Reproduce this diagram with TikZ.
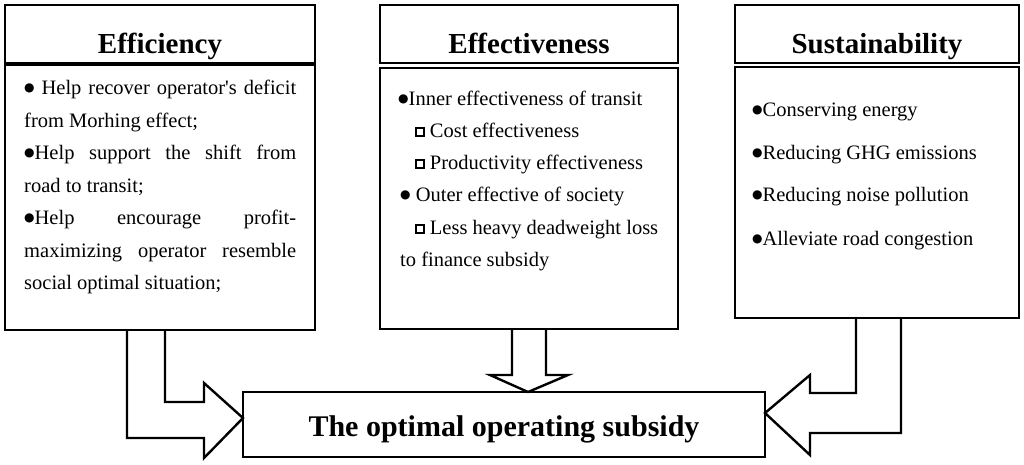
\documentclass[tikz,border=0pt]{standalone}
\usepackage{fontspec}
\setmainfont{Liberation Serif}
\newfontfamily\symf{DejaVu Sans}
\tikzset{bx/.style={draw,line width=2.4pt},
 ttl/.style={font=\fontsize{29}{32}\selectfont\bfseries,anchor=base},
 txt/.style={font=\fontsize{20.5}{24}\selectfont,anchor=base west,inner sep=0},
 arr/.style={draw,line width=2.4pt,line join=miter}}
\newcommand{\sqb}{\tikz[baseline=0pt]\draw[line width=1.6pt](0,1pt) rectangle (8pt,9pt);}
\newcommand{\bul}{\raisebox{3pt}{\symf\fontsize{12}{12}\selectfont ●}}
\begin{document}
\begin{tikzpicture}[x=1pt,y=-1pt]
\useasboundingbox (0,0) rectangle (1024,464);
% boxes
\draw[bx] (5,5) rectangle (315,63); \draw[bx] (5,65) rectangle (315,330);
\draw[bx] (380,5) rectangle (678,63); \draw[bx] (380,68) rectangle (678,329);
\draw[bx] (735,5) rectangle (1019,63); \draw[bx] (735,67) rectangle (1019,318);
\draw[bx] (243,392) rectangle (765,457);
\node[ttl] (t1) at (160,53) {Efficiency};
\node[ttl] (t2) at (529,53) {Effectiveness};
\node[ttl] (t3) at (877,53) {Sustainability};
\node[font=\fontsize{30}{34}\selectfont\bfseries,anchor=base] (bot) at (504,436) {The optimal operating subsidy};
% left text
\node[font=\fontsize{20.5}{32.5}\selectfont,anchor=north west,inner sep=0,text width=272pt,align=justify] (l1) at (24,80)
{\bul{} Help recover operator\textquotesingle s deficit\linebreak from Morhing effect;\par
\bul Help support the shift from\linebreak road to transit;\par
\bul Help encourage profit-\linebreak maximizing operator resemble\linebreak social optimal situation;\par};
% middle text
\node[txt] (m1) at (398,105) {\bul Inner effectiveness of transit};
\node[txt] (m2) at (415,137) {\sqb{} Cost effectiveness};
\node[txt] (m3) at (415,169) {\sqb{} Productivity effectiveness};
\node[txt] (m4) at (400,201) {\bul{} Outer effective of society};
\node[txt] (m5) at (415,234) {\sqb{} Less heavy deadweight loss};
\node[txt] (m6) at (400,266) {to finance subsidy};
% right text
\node[txt] (r1) at (752,116) {\bul Conserving energy};
\node[txt] (r2) at (752,159) {\bul Reducing GHG emissions};
\node[txt] (r3) at (752,201) {\bul Reducing noise pollution};
\node[txt] (r4) at (752,245) {\bul Alleviate road congestion};
% arrows
\draw[arr] (127,330) -- (127,438) -- (204,438) -- (204,458) -- (243,418) -- (204,383) -- (204,402) -- (165,402) -- (165,330);
\draw[arr] (512,329) -- (512,375) -- (490,375) -- (528,392) -- (568,375) -- (546,375) -- (546,329);
\draw[arr] (856,318) -- (856,393) -- (810,393) -- (810,375) -- (765,413) -- (810,455) -- (810,433) -- (901,433) -- (901,318);
\end{tikzpicture}
\end{document}
